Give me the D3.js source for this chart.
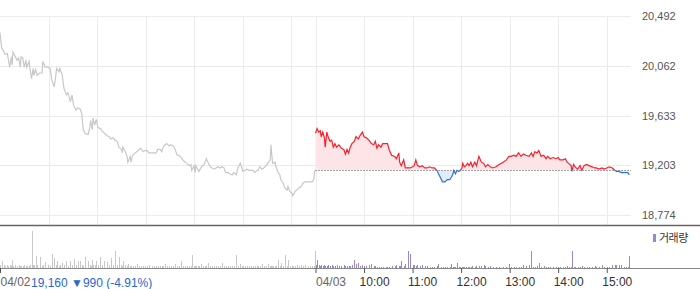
<!DOCTYPE html>
<html>
<head>
<meta charset="utf-8">
<script src="https://cdn.jsdelivr.net/npm/d3@7"></script>
<style>
  body { margin: 0; background: #fff; }
  text { font-family: "Liberation Sans", Arial, sans-serif; }
</style>
</head>
<body>
<div id="chart"></div>
<script>
// price axis labels
var priceTicks = [18774, 19203, 19633, 20062, 20492];
var baseline = 19160;

// 04/02 - minutes after 09:00, price, volume (thousand shares)
var prevMinute = [
  0, 2, 5, 6, 9, 10, 12, 14, 15, 16,
  19, 21, 23, 25, 26, 28, 30, 32, 33, 36,
  37, 39, 41, 42, 44, 46, 49, 52, 53, 56,
  59, 62, 64, 67, 69, 70, 73, 74, 77, 79,
  82, 84, 87, 89, 91, 94, 96, 99, 101, 103,
  105, 109, 111, 112, 114, 115, 117, 119, 121, 124,
  126, 129, 132, 135, 137, 140, 142, 145, 147, 150,
  151, 152, 155, 157, 158, 161, 162, 164, 167, 169,
  172, 174, 177, 179, 182, 184, 188, 190, 193, 195,
  198, 200, 201, 204, 206, 209, 211, 214, 216, 219,
  221, 224, 226, 229, 231, 234, 236, 237, 240, 241,
  242, 245, 246, 248, 251, 253, 255, 257, 260, 262,
  265, 267, 269, 272, 274, 277, 279, 282, 284, 287,
  289, 292, 294, 297, 299, 300, 303, 305, 308, 310,
  313, 315, 318, 319, 321, 324, 326, 329, 331, 334,
  335, 336, 337, 340, 341, 344, 346, 347, 350, 352,
  355, 356, 358, 361, 362, 365, 367, 370, 372, 375,
  377, 381, 383, 386, 388, 389
];
var prevPrice = [
  20350, 20220, 20180, 20160, 20170, 20130, 20050, 20140, 20070, 20180,
  20140, 20110, 20130, 20050, 20140, 20130, 20050, 20110, 20050, 20100,
  20040, 19950, 20040, 19980, 20030, 19980, 20000, 20000, 20100, 20050,
  20050, 20040, 19940, 19880, 19980, 20040, 20010, 20040, 19980, 19870,
  19810, 19830, 19750, 19810, 19720, 19680, 19700, 19690, 19650, 19510,
  19480, 19470, 19530, 19590, 19510, 19610, 19550, 19600, 19530, 19520,
  19500, 19480, 19460, 19450, 19430, 19440, 19420, 19410, 19360, 19340,
  19310, 19360, 19320, 19280, 19230, 19280, 19230, 19290, 19310, 19320,
  19340, 19350, 19320, 19330, 19330, 19310, 19310, 19310, 19310, 19340,
  19340, 19320, 19350, 19380, 19390, 19370, 19380, 19370, 19350, 19290,
  19290, 19270, 19250, 19230, 19220, 19200, 19210, 19160, 19200, 19140,
  19200, 19160, 19150, 19180, 19200, 19220, 19260, 19230, 19190, 19180,
  19170, 19180, 19190, 19180, 19190, 19180, 19140, 19140, 19130, 19120,
  19140, 19120, 19180, 19220, 19180, 19150, 19160, 19170, 19160, 19160,
  19160, 19140, 19160, 19160, 19190, 19170, 19180, 19200, 19220, 19250,
  19380, 19290, 19220, 19230, 19190, 19140, 19120, 19080, 19050, 19010,
  18990, 19020, 18980, 18960, 18940, 18980, 18990, 19010, 19020, 19050,
  19060, 19060, 19060, 19060, 19080, 19160
];
var prevVolume = [
  3, 7, 3, 2, 3, 2, 3, 2, 8, 2,
  3, 2, 3, 2, 2, 2, 3, 2, 2, 2,
  3, 37, 3, 3, 12, 3, 11, 2, 3, 6,
  3, 2, 14, 10, 3, 7, 2, 3, 5, 3,
  7, 2, 7, 3, 9, 3, 7, 7, 3, 2,
  11, 7, 3, 2, 8, 3, 3, 7, 3, 11,
  3, 7, 6, 3, 10, 3, 17, 3, 11, 3,
  2, 7, 3, 2, 4, 2, 2, 2, 2, 4,
  2, 2, 2, 2, 2, 3, 2, 2, 2, 2,
  2, 2, 2, 4, 2, 2, 2, 2, 4, 2,
  2, 7, 2, 2, 2, 2, 2, 13, 2, 2,
  2, 2, 2, 4, 2, 2, 2, 5, 2, 2,
  2, 2, 2, 2, 5, 2, 2, 2, 2, 2,
  2, 13, 2, 4, 2, 2, 2, 2, 2, 2,
  2, 2, 2, 2, 2, 4, 2, 2, 4, 2,
  2, 2, 2, 2, 2, 8, 2, 5, 2, 13,
  2, 8, 2, 2, 2, 2, 3, 2, 3, 2,
  3, 2, 2, 2, 2, 17
];

// 04/03
var todayMinute = [
  0, 2, 4, 6, 7, 9, 11, 12, 14, 16,
  18, 20, 22, 24, 26, 29, 32, 35, 37, 39,
  41, 43, 45, 48, 50, 53, 55, 58, 60, 63,
  66, 69, 72, 74, 76, 78, 81, 83, 87, 89,
  91, 94, 98, 100, 103, 104, 106, 109, 111, 114,
  117, 120, 122, 124, 126, 129, 132, 135, 138, 141,
  144, 147, 150, 152, 155, 157, 160, 163, 166, 168,
  170, 171, 173, 175, 177, 179, 181, 182, 184, 186,
  188, 190, 192, 194, 197, 199, 202, 205, 208, 210,
  213, 216, 219, 223, 227, 232, 236, 239, 242, 245,
  248, 251, 254, 257, 260, 264, 267, 269, 271, 274,
  276, 279, 282, 285, 287, 290, 294, 297, 300, 302,
  306, 309, 311, 313, 316, 317, 319, 321, 324, 327,
  329, 332, 335, 338, 342, 345, 347, 351, 354, 357,
  360, 363, 367, 370, 372, 375, 378, 381, 384, 386,
  388
];
var todayPrice = [
  19480, 19520, 19490, 19500, 19450, 19490, 19440, 19360, 19490, 19440,
  19410, 19420, 19360, 19390, 19360, 19380, 19350, 19340, 19300, 19340,
  19310, 19360, 19390, 19410, 19450, 19430, 19460, 19490, 19450, 19440,
  19420, 19390, 19380, 19410, 19350, 19380, 19360, 19390, 19390, 19390,
  19340, 19290, 19280, 19260, 19310, 19230, 19200, 19250, 19180, 19180,
  19180, 19190, 19200, 19250, 19200, 19190, 19200, 19180, 19180, 19190,
  19180, 19180, 19160, 19130, 19090, 19060, 19060, 19080, 19080, 19100,
  19130, 19160, 19130, 19160, 19150, 19160, 19180, 19220, 19190, 19200,
  19220, 19200, 19230, 19190, 19230, 19200, 19280, 19230, 19220, 19190,
  19210, 19190, 19180, 19190, 19210, 19230, 19250, 19280, 19280, 19290,
  19280, 19310, 19280, 19300, 19290, 19280, 19310, 19280, 19320, 19310,
  19330, 19280, 19290, 19260, 19280, 19260, 19270, 19260, 19270, 19250,
  19250, 19260, 19230, 19220, 19200, 19150, 19210, 19190, 19170, 19200,
  19160, 19200, 19210, 19200, 19190, 19180, 19180, 19170, 19180, 19170,
  19180, 19190, 19180, 19160, 19150, 19150, 19140, 19140, 19140, 19140,
  19120
];
var todayVolume = [
  3, 8, 3, 2, 3, 2, 3, 2, 2, 3,
  2, 3, 2, 2, 3, 2, 2, 3, 2, 2,
  2, 2, 3, 8, 4, 5, 2, 3, 2, 2,
  3, 4, 2, 2, 1, 1, 1, 1, 1, 1,
  1, 2, 2, 3, 2, 2, 7, 2, 4, 17,
  14, 3, 3, 2, 3, 2, 3, 2, 2, 1,
  1, 1, 2, 4, 1, 1, 1, 1, 1, 4,
  1, 1, 1, 5, 1, 1, 1, 1, 1, 1,
  1, 1, 1, 2, 1, 2, 2, 2, 3, 2,
  1, 2, 1, 1, 1, 1, 1, 4, 1, 1,
  1, 1, 1, 3, 2, 3, 17, 1, 1, 2,
  5, 1, 2, 1, 1, 1, 1, 1, 1, 1,
  1, 1, 2, 1, 1, 17, 1, 1, 1, 1,
  2, 1, 1, 1, 1, 2, 1, 1, 3, 1,
  1, 1, 3, 3, 3, 3, 3, 1, 1, 1,
  12
];

// x axis labels (minutes on the two-day axis)
var timeTicks = [0, 390, 450, 510, 570, 630, 690, 750];
var timeLabels = ["04/02", "04/03", "10:00", "11:00", "12:00", "13:00", "14:00", "15:00"];
var gridMinutes = [60, 120, 180, 240, 300, 360, 390, 450, 510, 570, 630, 690, 750];

var prev = prevMinute.map(function(m, i) { return {m: m, p: prevPrice[i], v: prevVolume[i]}; });
var today = todayMinute.map(function(m, i) { return {m: m + 390, p: todayPrice[i], v: todayVolume[i]}; });

var svg = d3.select("#chart")
  .append("svg")
  .attr("width", 700)
  .attr("height", 289);

var x = d3.scaleLinear().domain([0, 780]).range([0, 631]);
var y = d3.scaleLinear().domain([18774, 20492]).range([215, 16]);
var yv = d3.scaleLinear().domain([0, 40]).range([268, 228]);

// grid
svg.append("g").selectAll("line")
  .data(priceTicks).enter().append("line")
  .attr("x1", 0).attr("x2", 631)
  .attr("y1", function(d) { return Math.round(y(d)) + 0.5; })
  .attr("y2", function(d) { return Math.round(y(d)) + 0.5; })
  .attr("stroke", "#ebebeb");
svg.append("g").selectAll("line")
  .data(gridMinutes).enter().append("line")
  .attr("x1", function(d) { return Math.round(x(d)) + 0.5; })
  .attr("x2", function(d) { return Math.round(x(d)) + 0.5; })
  .attr("y1", 16).attr("y2", 225)
  .attr("stroke", "#ebebeb");

// up / down clip around baseline
var by = y(baseline);
var defs = svg.append("defs");
defs.append("clipPath").attr("id", "clip-up")
  .append("rect").attr("x", 0).attr("y", 0).attr("width", 700).attr("height", by);
defs.append("clipPath").attr("id", "clip-down")
  .append("rect").attr("x", 0).attr("y", by).attr("width", 700).attr("height", 225 - by);

var area = d3.area()
  .x(function(d) { return x(d.m); })
  .y0(by)
  .y1(function(d) { return y(d.p); });
var line = d3.line()
  .x(function(d) { return x(d.m); })
  .y(function(d) { return y(d.p); });

svg.append("path").datum(today).attr("d", area)
  .attr("fill", "#fde4e6").attr("clip-path", "url(#clip-up)");
svg.append("path").datum(today).attr("d", area)
  .attr("fill", "#e2ebf8").attr("clip-path", "url(#clip-down)");

svg.append("path").datum(prev).attr("d", line)
  .attr("fill", "none").attr("stroke", "#c6c8cc").attr("stroke-width", 1.2);

svg.append("line")
  .attr("x1", x(390)).attr("x2", 631)
  .attr("y1", Math.round(by) + 0.5).attr("y2", Math.round(by) + 0.5)
  .attr("stroke", "#555").attr("stroke-dasharray", "1,2");

svg.append("path").datum(today).attr("d", line)
  .attr("fill", "none").attr("stroke", "#f5222e").attr("stroke-width", 1.2)
  .attr("clip-path", "url(#clip-up)");
svg.append("path").datum(today).attr("d", line)
  .attr("fill", "none").attr("stroke", "#2f74d0").attr("stroke-width", 1.2)
  .attr("clip-path", "url(#clip-down)");

// price axis
var yAxis = svg.append("g")
  .attr("transform", "translate(642,0)")
  .call(d3.axisRight(y).tickValues(priceTicks).tickFormat(d3.format(",")).tickSize(0).tickPadding(0));
yAxis.select(".domain").remove();
yAxis.selectAll("text").attr("font-size", 11).attr("fill", "#555")
  .style("font-family", "'Liberation Sans', Arial, sans-serif");

// panel separator
svg.append("line")
  .attr("x1", 0).attr("x2", 700).attr("y1", 225.5).attr("y2", 225.5)
  .attr("stroke", "#666").attr("stroke-width", 1.5);

// volume
svg.append("g").selectAll("rect")
  .data(prev).enter().append("rect")
  .attr("x", function(d) { return Math.round(x(d.m)); })
  .attr("y", function(d) { return yv(d.v); })
  .attr("width", 1)
  .attr("height", function(d) { return yv(0) - yv(d.v); })
  .attr("fill", "#c8c8c8");
svg.append("g").selectAll("rect")
  .data(today).enter().append("rect")
  .attr("x", function(d) { return Math.round(x(d.m)); })
  .attr("y", function(d) { return yv(d.v); })
  .attr("width", 1)
  .attr("height", function(d) { return yv(0) - yv(d.v); })
  .attr("fill", "#9a88cc");

// time axis
var xAxis = svg.append("g")
  .attr("transform", "translate(0,268)")
  .call(d3.axisBottom(x).tickValues(timeTicks)
    .tickFormat(function(d, i) { return timeLabels[i]; })
    .tickSize(5).tickPadding(4));
xAxis.select(".domain").attr("d", "M0,0.5H700").attr("stroke", "#888");
xAxis.selectAll(".tick line").attr("stroke", "#555");
xAxis.selectAll("text")
  .attr("text-anchor", "start")
  .attr("font-size", 12)
  .style("font-family", "'Liberation Sans', Arial, sans-serif")
  .attr("dx", function(d) { return d % 390 === 0 ? 0 : -5; })
  .attr("fill", function(d) { return d % 390 === 0 ? "#666" : "#333"; });

svg.append("text")
  .attr("x", 31).attr("y", 287)
  .attr("font-size", 12).attr("fill", "#2a66d0")
  .text("19,160 \u25BC990 (-4.91%)");

// legend
svg.append("rect").attr("x", 653).attr("y", 234).attr("width", 3).attr("height", 8).attr("fill", "#9a88cc");
svg.append("text").attr("x", 659).attr("y", 242)
  .attr("font-size", 11).attr("fill", "#333")
  .style("font-family", "'Noto Sans CJK KR', sans-serif")
  .attr("letter-spacing", -0.5)
  .text("거래량");
</script>
</body>
</html>
